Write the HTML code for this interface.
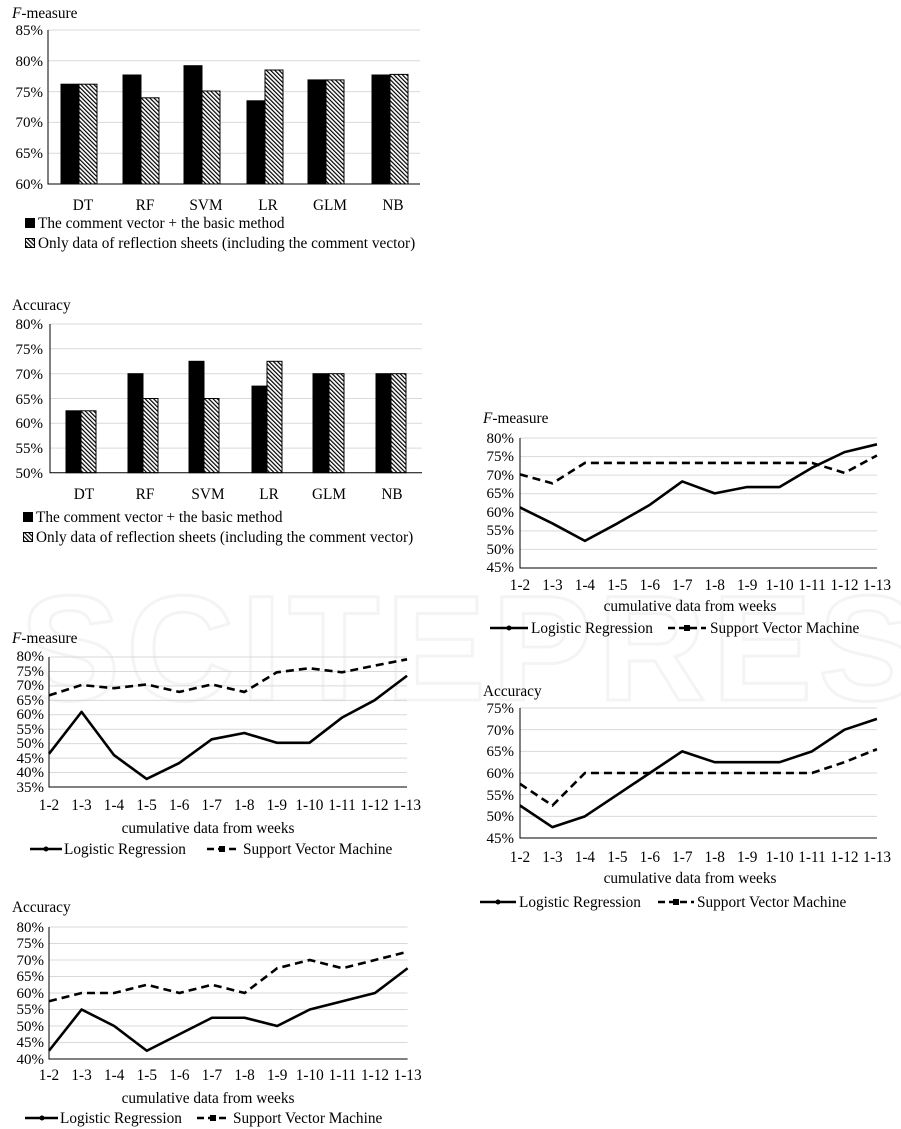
<!DOCTYPE html>
<html><head><meta charset="utf-8"><style>
body{margin:0;background:#fff;}
svg{display:block;font-family:"Liberation Serif",serif;}
.t{font-size:15.3px;fill:#000}
.s{font-size:15px;fill:#000}
.g line{stroke:#d9d9d9;stroke-width:1;vector-effect:non-scaling-stroke}
.ax{stroke:#000;stroke-width:1;vector-effect:non-scaling-stroke;fill:none}
.lr{stroke:#000;stroke-width:2.6;fill:none;vector-effect:non-scaling-stroke;stroke-linejoin:round}
.sv{stroke:#000;stroke-width:2.6;fill:none;vector-effect:non-scaling-stroke;stroke-dasharray:8,5}
</style></head><body>
<svg width="901" height="1129" viewBox="0 0 901 1129">
<defs>
<pattern id="h" width="3" height="3" patternUnits="userSpaceOnUse" patternTransform="rotate(-45)">
<rect width="3" height="3" fill="#fff"/><rect width="1.2" height="3" fill="#000"/>
</pattern>
</defs>
<text x="20" y="700" font-size="150" font-family="Liberation Sans" font-weight="bold" fill="none" stroke="#f4f4f4" stroke-width="3" letter-spacing="6">SCITEPRESS</text>

<!-- Chart 1 -->
<text x="12" y="18" class="t"><tspan font-style="italic">F</tspan>-measure</text>
<g class="g"><line x1="48" x2="420" y1="30" y2="30"/><line x1="48" x2="420" y1="60.8" y2="60.8"/><line x1="48" x2="420" y1="91.6" y2="91.6"/><line x1="48" x2="420" y1="122.4" y2="122.4"/><line x1="48" x2="420" y1="153.2" y2="153.2"/></g>
<g class="s" text-anchor="end"><text x="43" y="35">85%</text><text x="43" y="66">80%</text><text x="43" y="97">75%</text><text x="43" y="127">70%</text><text x="43" y="158">65%</text><text x="43" y="189">60%</text></g>
<g stroke="#000" stroke-width="1">
<rect x="61" y="84.2" width="18" height="99.8"/><rect x="79" y="84.2" width="18" height="99.8" fill="url(#h)"/>
<rect x="123" y="75" width="18" height="109"/><rect x="141" y="97.8" width="18" height="86.2" fill="url(#h)"/>
<rect x="184" y="65.7" width="18" height="118.3"/><rect x="202" y="91" width="18" height="93" fill="url(#h)"/>
<rect x="247" y="100.8" width="18" height="83.2"/><rect x="265" y="70" width="18" height="114" fill="url(#h)"/>
<rect x="308" y="79.9" width="18" height="104.1"/><rect x="326" y="79.9" width="18" height="104.1" fill="url(#h)"/>
<rect x="372" y="75" width="18" height="109"/><rect x="390" y="74.4" width="18" height="109.6" fill="url(#h)"/>
</g>
<path d="M48 30V184H420" class="ax"/>
<g class="t" text-anchor="middle"><text x="83" y="210">DT</text><text x="145" y="210">RF</text><text x="206" y="210">SVM</text><text x="268" y="210">LR</text><text x="330" y="210">GLM</text><text x="393" y="210">NB</text></g>
<rect x="25" y="218" width="10" height="10" fill="#000"/><text x="38" y="228" class="t">The comment vector + the basic method</text>
<rect x="25.5" y="238.5" width="9" height="9" fill="url(#h)" stroke="#000"/><text x="38" y="248" class="t">Only data of reflection sheets (including the comment vector)</text>

<!-- Chart 2 -->
<text x="12" y="310" class="t">Accuracy</text>
<g class="g"><line x1="50" x2="422" y1="324" y2="324"/><line x1="50" x2="422" y1="348.8" y2="348.8"/><line x1="50" x2="422" y1="373.7" y2="373.7"/><line x1="50" x2="422" y1="398.5" y2="398.5"/><line x1="50" x2="422" y1="423.3" y2="423.3"/><line x1="50" x2="422" y1="448.1" y2="448.1"/></g>
<g class="s" text-anchor="end"><text x="43" y="329">80%</text><text x="43" y="354">75%</text><text x="43" y="379">70%</text><text x="43" y="404">65%</text><text x="43" y="428">60%</text><text x="43" y="453">55%</text><text x="43" y="478">50%</text></g>
<g stroke="#000" stroke-width="1">
<rect x="66" y="410.8" width="15" height="61.9"/><rect x="81" y="410.8" width="15" height="61.9" fill="url(#h)"/>
<rect x="128" y="373.7" width="15" height="99"/><rect x="143" y="398.5" width="15" height="74.2" fill="url(#h)"/>
<rect x="189" y="361.3" width="15" height="111.4"/><rect x="204" y="398.5" width="15" height="74.2" fill="url(#h)"/>
<rect x="252" y="386.1" width="15" height="86.6"/><rect x="267" y="361.3" width="15" height="111.4" fill="url(#h)"/>
<rect x="313" y="373.7" width="16" height="99"/><rect x="329" y="373.7" width="15" height="99" fill="url(#h)"/>
<rect x="376" y="373.7" width="15" height="99"/><rect x="391" y="373.7" width="15" height="99" fill="url(#h)"/>
</g>
<path d="M50 324V472.7H422" class="ax"/>
<g class="t" text-anchor="middle"><text x="84" y="499">DT</text><text x="145" y="499">RF</text><text x="208" y="499">SVM</text><text x="269" y="499">LR</text><text x="329" y="499">GLM</text><text x="392" y="499">NB</text></g>
<rect x="23" y="512" width="10" height="10" fill="#000"/><text x="36" y="522" class="t">The comment vector + the basic method</text>
<rect x="23.5" y="532.5" width="9" height="9" fill="url(#h)" stroke="#000"/><text x="36" y="542" class="t">Only data of reflection sheets (including the comment vector)</text>

<!-- Chart 3 -->
<text x="12" y="643" class="t"><tspan font-style="italic">F</tspan>-measure</text>
<g class="s" text-anchor="end"><text x="44" y="661">80%</text><text x="44" y="676">75%</text><text x="44" y="690">70%</text><text x="44" y="705">65%</text><text x="44" y="719">60%</text><text x="44" y="734">55%</text><text x="44" y="748">50%</text><text x="44" y="763">45%</text><text x="44" y="777">40%</text><text x="44" y="792">35%</text></g>
<g transform="translate(49,787) scale(32.55,-2.889) translate(0,-35)">
<g class="g"><line x1="0" x2="11" y1="80" y2="80"/><line x1="0" x2="11" y1="75" y2="75"/><line x1="0" x2="11" y1="70" y2="70"/><line x1="0" x2="11" y1="65" y2="65"/><line x1="0" x2="11" y1="60" y2="60"/><line x1="0" x2="11" y1="55" y2="55"/><line x1="0" x2="11" y1="50" y2="50"/><line x1="0" x2="11" y1="45" y2="45"/><line x1="0" x2="11" y1="40" y2="40"/></g>
<path class="ax" d="M0 80V35H11"/>
<polyline class="lr" points="0,46.5 1,61 2,46 3,37.8 4,43.3 5,51.5 6,53.7 7,50.3 8,50.3 9,59 10,65 11,73.5"/>
<polyline class="sv" points="0,66.7 1,70.3 2,69.2 3,70.5 4,67.9 5,70.5 6,67.9 7,74.7 8,76.1 9,74.7 10,77 11,79.2"/>
</g>
<g class="t" text-anchor="middle"><text x="49" y="810">1-2</text><text x="81.5" y="810">1-3</text><text x="114" y="810">1-4</text><text x="146.6" y="810">1-5</text><text x="179.2" y="810">1-6</text><text x="211.7" y="810">1-7</text><text x="244.3" y="810">1-8</text><text x="276.8" y="810">1-9</text><text x="309.4" y="810">1-10</text><text x="342" y="810">1-11</text><text x="374.5" y="810">1-12</text><text x="407" y="810">1-13</text></g>
<text x="208" y="833" class="t" text-anchor="middle">cumulative data from weeks</text>
<line x1="30" x2="62" y1="849" y2="849" stroke="#000" stroke-width="2.5"/><circle cx="46" cy="849" r="2.5"/>
<text x="64" y="854" class="t">Logistic Regression</text>
<line x1="207" x2="240" y1="849" y2="849" stroke="#000" stroke-width="2.5" stroke-dasharray="7,4"/><rect x="219" y="846" width="6" height="6"/>
<text x="243" y="854" class="t">Support Vector Machine</text>

<!-- Chart 4 -->
<text x="12" y="912" class="t">Accuracy</text>
<g class="s" text-anchor="end"><text x="44" y="932">80%</text><text x="44" y="948">75%</text><text x="44" y="965">70%</text><text x="44" y="981">65%</text><text x="44" y="998">60%</text><text x="44" y="1014">55%</text><text x="44" y="1031">50%</text><text x="44" y="1047">45%</text><text x="44" y="1064">40%</text></g>
<g transform="translate(49,1059) scale(32.6,-3.3) translate(0,-40)">
<g class="g"><line x1="0" x2="11" y1="80" y2="80"/><line x1="0" x2="11" y1="75" y2="75"/><line x1="0" x2="11" y1="70" y2="70"/><line x1="0" x2="11" y1="65" y2="65"/><line x1="0" x2="11" y1="60" y2="60"/><line x1="0" x2="11" y1="55" y2="55"/><line x1="0" x2="11" y1="50" y2="50"/><line x1="0" x2="11" y1="45" y2="45"/></g>
<path class="ax" d="M0 80V40H11"/>
<polyline class="lr" points="0,42.5 1,55 2,50 3,42.5 4,47.5 5,52.5 6,52.5 7,50 8,55 9,57.5 10,60 11,67.5"/>
<polyline class="sv" points="0,57.5 1,60 2,60 3,62.5 4,60 5,62.5 6,60 7,67.5 8,70 9,67.5 10,70 11,72.5"/>
</g>
<g class="t" text-anchor="middle"><text x="49" y="1080">1-2</text><text x="81.6" y="1080">1-3</text><text x="114.2" y="1080">1-4</text><text x="146.8" y="1080">1-5</text><text x="179.4" y="1080">1-6</text><text x="212" y="1080">1-7</text><text x="244.6" y="1080">1-8</text><text x="277.2" y="1080">1-9</text><text x="309.8" y="1080">1-10</text><text x="342.4" y="1080">1-11</text><text x="375" y="1080">1-12</text><text x="407.6" y="1080">1-13</text></g>
<text x="208" y="1103" class="t" text-anchor="middle">cumulative data from weeks</text>
<line x1="25" x2="58" y1="1118" y2="1118" stroke="#000" stroke-width="2.5"/><circle cx="42" cy="1118" r="2.5"/>
<text x="60" y="1123" class="t">Logistic Regression</text>
<line x1="197" x2="230" y1="1118" y2="1118" stroke="#000" stroke-width="2.5" stroke-dasharray="7,4"/><rect x="210" y="1115" width="6" height="6"/>
<text x="233" y="1123" class="t">Support Vector Machine</text>

<!-- Chart 5 -->
<text x="483" y="423" class="t"><tspan font-style="italic">F</tspan>-measure</text>
<g class="s" text-anchor="end"><text x="514" y="443">80%</text><text x="514" y="461">75%</text><text x="514" y="480">70%</text><text x="514" y="498">65%</text><text x="514" y="517">60%</text><text x="514" y="535">55%</text><text x="514" y="554">50%</text><text x="514" y="572">45%</text></g>
<g transform="translate(520,568) scale(32.45,-3.714) translate(0,-45)">
<g class="g"><line x1="0" x2="11" y1="80" y2="80"/><line x1="0" x2="11" y1="75" y2="75"/><line x1="0" x2="11" y1="70" y2="70"/><line x1="0" x2="11" y1="65" y2="65"/><line x1="0" x2="11" y1="60" y2="60"/><line x1="0" x2="11" y1="55" y2="55"/><line x1="0" x2="11" y1="50" y2="50"/></g>
<path class="ax" d="M0 80V45H11"/>
<polyline class="lr" points="0,61.3 1,57 2,52.3 3,57 4,62 5,68.3 6,65.1 7,66.8 8,66.8 9,72 10,76.2 11,78.3"/>
<polyline class="sv" points="0,70.2 1,67.8 2,73.3 3,73.3 4,73.3 5,73.3 6,73.3 7,73.3 8,73.3 9,73.3 10,70.6 11,75.3"/>
</g>
<g class="t" text-anchor="middle"><text x="520" y="590">1-2</text><text x="552.5" y="590">1-3</text><text x="584.9" y="590">1-4</text><text x="617.4" y="590">1-5</text><text x="649.8" y="590">1-6</text><text x="682.3" y="590">1-7</text><text x="714.7" y="590">1-8</text><text x="747.2" y="590">1-9</text><text x="779.6" y="590">1-10</text><text x="812" y="590">1-11</text><text x="844.5" y="590">1-12</text><text x="877" y="590">1-13</text></g>
<text x="690" y="611" class="t" text-anchor="middle">cumulative data from weeks</text>
<line x1="490" x2="528" y1="628" y2="628" stroke="#000" stroke-width="2.5"/><circle cx="509" cy="628" r="2.5"/>
<text x="531" y="633" class="t">Logistic Regression</text>
<line x1="668" x2="706" y1="628" y2="628" stroke="#000" stroke-width="2.5" stroke-dasharray="7,4"/><rect x="684" y="625" width="6" height="6"/>
<text x="710" y="633" class="t">Support Vector Machine</text>

<!-- Chart 6 -->
<text x="483" y="696" class="t">Accuracy</text>
<g class="s" text-anchor="end"><text x="514" y="713">75%</text><text x="514" y="735">70%</text><text x="514" y="756">65%</text><text x="514" y="778">60%</text><text x="514" y="800">55%</text><text x="514" y="821">50%</text><text x="514" y="843">45%</text></g>
<g transform="translate(520,838) scale(32.45,-4.333) translate(0,-45)">
<g class="g"><line x1="0" x2="11" y1="75" y2="75"/><line x1="0" x2="11" y1="70" y2="70"/><line x1="0" x2="11" y1="65" y2="65"/><line x1="0" x2="11" y1="60" y2="60"/><line x1="0" x2="11" y1="55" y2="55"/><line x1="0" x2="11" y1="50" y2="50"/></g>
<path class="ax" d="M0 75V45H11"/>
<polyline class="lr" points="0,52.5 1,47.5 2,50 3,55 4,60 5,65 6,62.5 7,62.5 8,62.5 9,65 10,70 11,72.5"/>
<polyline class="sv" points="0,57.5 1,52.5 2,60 3,60 4,60 5,60 6,60 7,60 8,60 9,60 10,62.5 11,65.5"/>
</g>
<g class="t" text-anchor="middle"><text x="520" y="862">1-2</text><text x="552.5" y="862">1-3</text><text x="584.9" y="862">1-4</text><text x="617.4" y="862">1-5</text><text x="649.8" y="862">1-6</text><text x="682.3" y="862">1-7</text><text x="714.7" y="862">1-8</text><text x="747.2" y="862">1-9</text><text x="779.6" y="862">1-10</text><text x="812" y="862">1-11</text><text x="844.5" y="862">1-12</text><text x="877" y="862">1-13</text></g>
<text x="690" y="883" class="t" text-anchor="middle">cumulative data from weeks</text>
<line x1="480" x2="516" y1="902" y2="902" stroke="#000" stroke-width="2.5"/><circle cx="498" cy="902" r="2.5"/>
<text x="519" y="907" class="t">Logistic Regression</text>
<line x1="658" x2="694" y1="902" y2="902" stroke="#000" stroke-width="2.5" stroke-dasharray="7,4"/><rect x="673" y="899" width="6" height="6"/>
<text x="697" y="907" class="t">Support Vector Machine</text>
</svg>
</body></html>
